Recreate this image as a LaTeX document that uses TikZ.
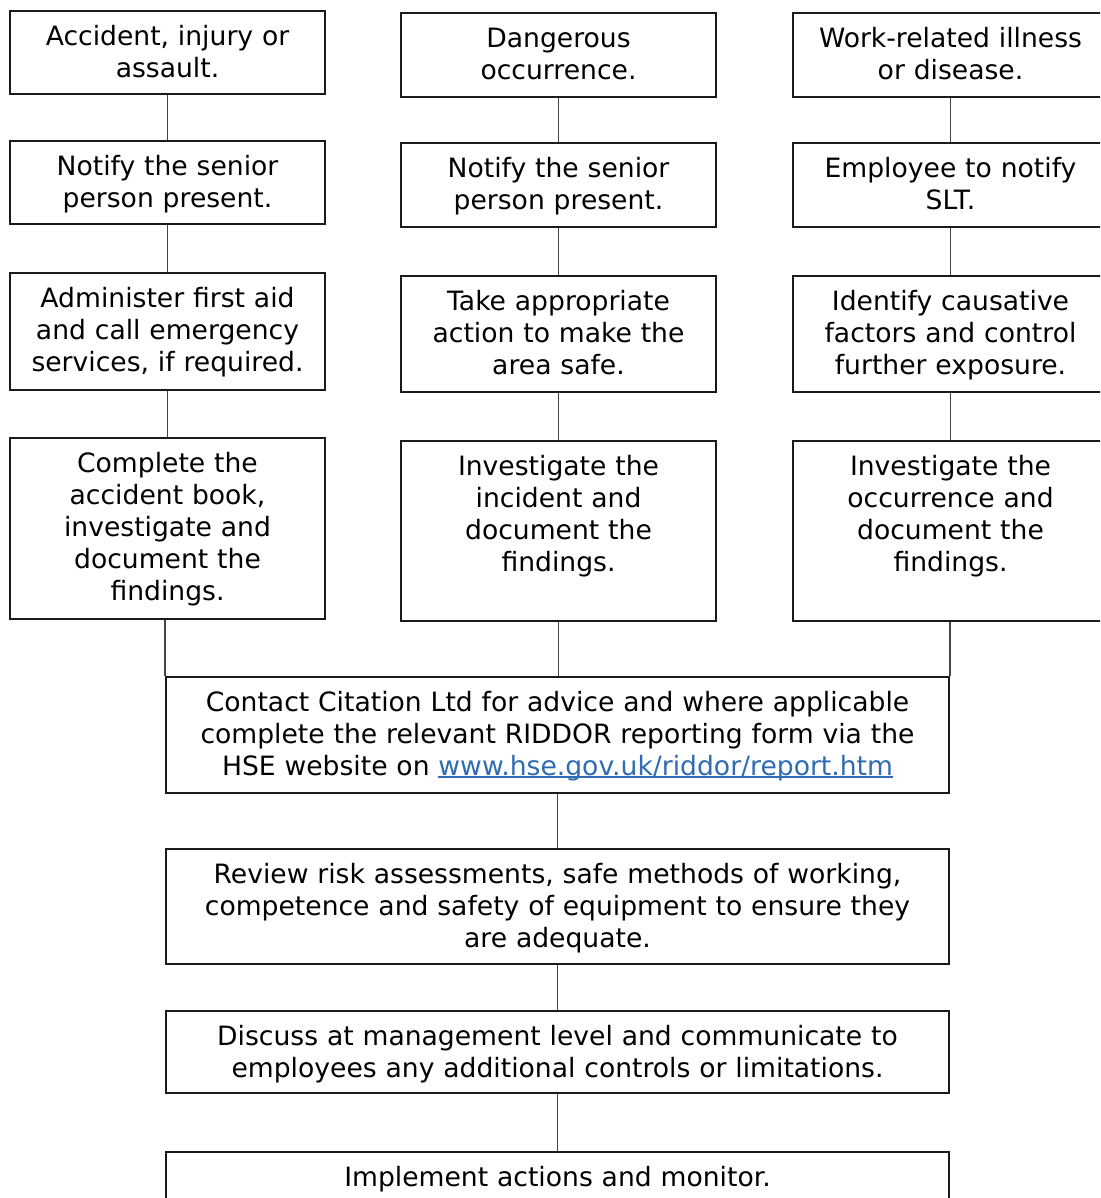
\documentclass[tikz,border=0pt]{standalone}
\usepackage{fontspec}
\setmainfont{DejaVu Sans}
\definecolor{linkblue}{HTML}{2F6CB3}
\definecolor{framegray}{HTML}{1A1A1A}
\definecolor{wiregray}{HTML}{444444}
\newcommand\linkline[1]{{\setbox0\hbox{#1}\rlap{\rule[-2.5pt]{\wd0}{1.3pt}}\box0}}
% a framed step: name, centre x, top y, width, height, text
\newcommand\flowbox[6]{%
  \node[frame, minimum width=#4, minimum height=#5, anchor=north] (#1) at (#2,#3) {};
  \node[boxtext, text width=#4, anchor=north] (#1-t) at (#1.north) {\rule{0pt}{35pt}#6};
}
\tikzset{
  frame/.style={draw=framegray, line width=1.8pt, rectangle, inner sep=0pt, fill=white},
  boxtext/.style={inner sep=0pt, align=center, text=black,
    font=\fontsize{26.6}{32}\selectfont},
  wire/.style={draw=wiregray, line width=1.3pt}
}
\begin{document}
\begin{tikzpicture}[x=1pt, y=-1pt]
\useasboundingbox (0,0) rectangle (1100,1198);
\clip (0,0) rectangle (1100,1198);
\fill[white] (0,0) rectangle (1100,1198);

% left column: accident, injury or assault
\flowbox{a1}{167.5}{10}{315}{83}{Accident, injury or\\assault.}
\flowbox{a2}{167.5}{140}{315}{83}{Notify the senior\\person present.}
\flowbox{a3}{167.5}{272}{315}{117}{Administer first aid\\and call emergency\\services, if required.}
\flowbox{a4}{167.5}{437}{315}{181}{Complete the\\accident book,\\investigate and\\document the\\findings.}

% middle column: dangerous occurrence
\flowbox{b1}{558.5}{12}{315}{84}{Dangerous\\occurrence.}
\flowbox{b2}{558.5}{142}{315}{84}{Notify the senior\\person present.}
\flowbox{b3}{558.5}{275}{315}{116}{Take appropriate\\action to make the\\area safe.}
\flowbox{b4}{558.5}{440}{315}{180}{Investigate the\\incident and\\document the\\findings.}

% right column: work-related illness
\flowbox{c1}{950.5}{12}{315}{84}{Work-related illness\\or disease.}
\flowbox{c2}{950.5}{142}{315}{84}{Employee to notify\\SLT.}
\flowbox{c3}{950.5}{275}{315}{116}{Identify causative\\factors and control\\further exposure.}
\flowbox{c4}{950.5}{440}{315}{180}{Investigate the\\occurrence and\\document the\\findings.}

% shared steps
\flowbox{contact}{557.5}{676}{783}{116}{Contact Citation Ltd for advice and where applicable\\complete the relevant RIDDOR reporting form via the\\HSE website on \textcolor{linkblue}{\linkline{www.hse.gov.uk/riddor/report.htm}}}
\flowbox{review}{557.5}{848}{783}{115}{Review risk assessments, safe methods of working,\\competence and safety of equipment to ensure they\\are adequate.}
\flowbox{discuss}{557.5}{1010}{783}{82}{Discuss at management level and communicate to\\employees any additional controls or limitations.}
\flowbox{implement}{557.5}{1151}{783}{60}{Implement actions and monitor.}

% column connectors
\foreach \c in {a,b,c}{
  \draw[wire] (\c1.south) -- (\c2.north);
  \draw[wire] (\c2.south) -- (\c3.north);
  \draw[wire] (\c3.south) -- (\c4.north);
}
\draw[wire] (a4.south -| contact.north west) -- (contact.north west);
\draw[wire] (b4.south) -- (b4.south |- contact.north);
\draw[wire] (c4.south -| contact.north east) -- (contact.north east);
\draw[wire] (contact.south) -- (review.north);
\draw[wire] (review.south) -- (discuss.north);
\draw[wire] (discuss.south) -- (implement.north);
\end{tikzpicture}
\end{document}
